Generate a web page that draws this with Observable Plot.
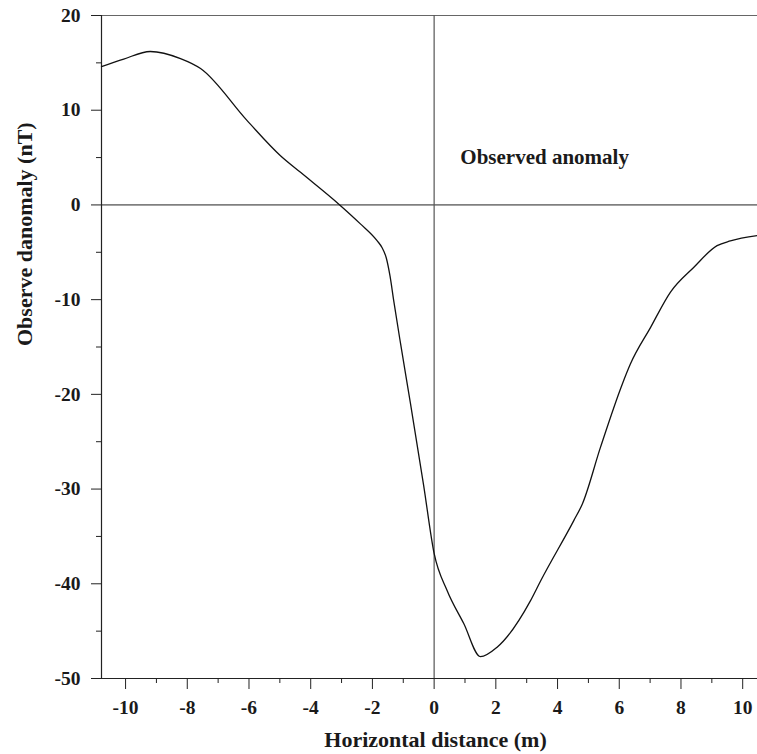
<!DOCTYPE html>
<html>
<head>
<meta charset="utf-8">
<script src="https://cdn.jsdelivr.net/npm/d3@7"></script>
<script src="https://cdn.jsdelivr.net/npm/@observablehq/plot@0.6"></script>
<style>
  html, body { margin: 0; padding: 0; background: #fff; }
</style>
</head>
<body>
<div id="chart"></div>
<script>
// Horizontal distance (m) and observed anomaly (nT)
const distance = [-10.78, -10.06, -9.2, -8.22, -7.57, -6.06, -4.98, -4.33, -3.06, -2.39, -1.85, -1.69, -1.55, -1.43, -1.31, -1.09, -0.77, -0.34, 0, 0.42, 0.96, 1.5, 2.04, 3.12, 3.45, 4.53, 4.8, 5.39, 6.1, 6.36, 7.02, 7.66, 8.41, 9.17, 9.6, 10.47];
const anomaly  = [14.6, 15.4, 16.2, 15.45, 14.4, 8.9, 5.2, 3.44, 0, -2.0, -3.77, -4.5, -5.6, -7.5, -10.1, -14.6, -20.9, -29.6, -36.8, -40.7, -44.2, -47.7, -46.7, -41.8, -39.7, -33.3, -31.6, -25.6, -18.9, -16.8, -12.9, -9.2, -6.6, -4.3, -3.8, -3.24];

const xMajorTicks = [-10, -8, -6, -4, -2, 0, 2, 4, 6, 8, 10];
const xMinorTicks = [-9, -7, -5, -3, -1, 1, 3, 5, 7, 9];
const yMajorTicks = [-50, -40, -30, -20, -10, 0, 10, 20];
const yMinorTicks = [-45, -35, -25, -15, -5, 5, 15];

const xTitle = "Horizontal distance (m)";
const yTitle = "Observe danomaly (nT)";
const annotation = [{x: 0.85, y: 5.0, text: "Observed anomaly"}];

const xDomain = [-10.78, 10.48];
const yDomain = [-50, 20];

const points = distance.map((d, i) => ({x: d, y: anomaly[i]}));

const plot = Plot.plot({
  width: 757,
  height: 754,
  marginLeft: 101,
  marginRight: 0,
  marginTop: 15,
  marginBottom: 76,
  style: {
    fontFamily: "'Liberation Serif', 'Times New Roman', serif",
    fontSize: "19.5px",
    fontWeight: "bold",
    color: "#1a1a1a",
    background: "#fff",
    overflow: "visible"
  },
  x: {domain: xDomain, label: null},
  y: {domain: yDomain, label: null},
  marks: [
    // frame lines
    Plot.ruleY([yDomain[1]], {stroke: "#666", strokeWidth: 1.2}),
    Plot.ruleY([yDomain[0]], {stroke: "#222", strokeWidth: 1.2}),
    Plot.ruleX([xDomain[0]], {stroke: "#222", strokeWidth: 1.2}),
    // zero lines
    Plot.ruleY([0], {stroke: "#222", strokeWidth: 1}),
    Plot.ruleX([0], {stroke: "#555", strokeWidth: 1.2}),
    // axes
    Plot.axisX({ticks: xMajorTicks, tickSize: 11, tickPadding: 11, tickFormat: d => String(d), stroke: "#222", fontSize: 19.5, fontWeight: "bold", label: null}),
    Plot.axisX({ticks: xMinorTicks, tickSize: 5, tickFormat: () => "", stroke: "#222", label: null}),
    Plot.axisY({ticks: yMajorTicks, tickSize: 10, tickPadding: 11, tickFormat: d => String(d), stroke: "#222", fontSize: 19.5, fontWeight: "bold", label: null}),
    Plot.axisY({ticks: yMinorTicks, tickSize: 5, tickFormat: () => "", stroke: "#222", label: null}),
    // curve
    Plot.line(points, {x: "x", y: "y", curve: "monotone-x", stroke: "#111", strokeWidth: 1.3}),
    // annotation
    Plot.text(annotation, {x: "x", y: "y", text: "text", textAnchor: "start", lineAnchor: "middle", fontSize: 21, fontWeight: "bold", fill: "#1a1a1a"}),
    // axis titles
    Plot.text([xTitle], {frameAnchor: "bottom", text: d => d, dx: 6, dy: 61, lineAnchor: "middle", fontSize: 22, fontWeight: "bold", fill: "#1a1a1a"}),
    Plot.text([yTitle], {frameAnchor: "left", text: d => d, rotate: -90, dx: -77, dy: -1, lineAnchor: "middle", fontSize: 22, fontWeight: "bold", fill: "#1a1a1a"})
  ]
});

document.getElementById("chart").appendChild(plot);
</script>
</body>
</html>
